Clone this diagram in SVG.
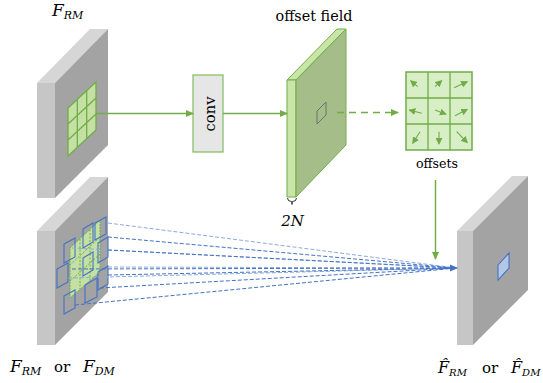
<svg xmlns="http://www.w3.org/2000/svg" width="543" height="383" viewBox="0 0 543 383">
<defs>
<style>
.lf{fill:#c6c6c6}
.tp{fill:#d6d6d6}
.dk{fill:#a3a3a3}
.gr{stroke:#70ad47;fill:none;stroke-width:1.3}
.bl{stroke:#4472c4;fill:none;stroke-width:1.1}
.dl{stroke:#4472c4;stroke-width:1;stroke-dasharray:4 2;fill:none}
.dl2{stroke:#8faadc;stroke-width:1;stroke-dasharray:4 2;fill:none}
.m{font-style:italic}
.oa{stroke:#70ad47;stroke-width:1.1;fill:none;marker-end:url(#sa)}
</style>
<marker id="ga" viewBox="0 0 8 8" refX="7" refY="4" markerWidth="8" markerHeight="8" markerUnits="userSpaceOnUse" orient="auto"><path d="M0,0.5 L8,4 L0,7.5 z" fill="#70ad47"/></marker>
<marker id="sa" viewBox="0 0 8 8" refX="7" refY="4" markerWidth="7" markerHeight="7" markerUnits="userSpaceOnUse" orient="auto"><path d="M0,0 L8,4 L0,8 z" fill="#70ad47"/></marker>
<marker id="ba" viewBox="0 0 8 8" refX="7" refY="4" markerWidth="9" markerHeight="8" markerUnits="userSpaceOnUse" orient="auto"><path d="M0,0.5 L8,4 L0,7.5 z" fill="#4472c4"/></marker>
</defs>
<rect width="543" height="383" fill="#fff"/>
<g fill="#000" font-family="DejaVu Serif">

<g id="input-top">
<polygon class="tp" points="37,83 90,29 108,29 55,83"/>
<polygon class="lf" points="37,83 55,83 55,198 37,198"/>
<polygon class="dk" points="55,83 108,29 108,145 55,198"/>
<polygon points="68,108 96,82 96,130 68,156" fill="#c5e0a5" stroke="#70ad47" stroke-width="1.3"/>
<path class="gr" d="M77.3,99.3 V147.3 M86.7,90.7 V138.7 M68,124 L96,98 M68,140 L96,114"/>
<text class="m" x="52" y="16" font-size="17">F<tspan font-size="11" dy="3">RM</tspan></text>
</g>

<g id="conv">
<rect x="193" y="75" width="30" height="77" fill="#e6e6e6" stroke="#8bc16a" stroke-width="1.3"/>
<text x="0" y="0" font-size="15" text-anchor="middle" textLength="35" lengthAdjust="spacingAndGlyphs" transform="translate(214.5,114) rotate(-90)">conv</text>
</g>

<g id="offset-field">
<polygon points="287,80 337,29 346,29 296,80" fill="#c9e6a8" stroke="#70ad47" stroke-width="1"/>
<polygon points="287,80 296,80 296,197 287,197" fill="#c9e6a8" stroke="#70ad47" stroke-width="1"/>
<polygon points="296,80 346,29 346,145 296,197" fill="#a5bd89" stroke="#70ad47" stroke-width="1"/>
<polygon points="317,111 326,102 326,115 317,124" fill="none" stroke="#707070" stroke-width="1"/>
<text x="314" y="21" font-size="15" text-anchor="middle" textLength="77" lengthAdjust="spacingAndGlyphs">offset field</text>
<path d="M287.5,198 q0,3.5 4,3.5 q0.5,0 0.5,3 M296.5,198 q0,3.5 -4,3.5 q-0.5,0 -0.5,3" fill="none" stroke="#000" stroke-width="0.8"/>
<text class="m" x="292.5" y="226" font-size="15" text-anchor="middle">2N</text>
</g>

<g id="offsets">
<rect x="406" y="72" width="66" height="78" fill="#d8eec6" stroke="#70ad47" stroke-width="1.5"/>
<path class="gr" d="M428,72 V150 M450,72 V150 M406,98 H472 M406,124 H472" stroke-width="1.3"/>
<line class="oa" x1="417.7" y1="86.7" x2="410.7" y2="80.7"/>
<line class="oa" x1="435" y1="86.7" x2="441.7" y2="80.7"/>
<line class="oa" x1="454" y1="87.7" x2="467.3" y2="81.7"/>
<line class="oa" x1="421.7" y1="113.3" x2="409.3" y2="110"/>
<line class="oa" x1="435" y1="110" x2="446" y2="114.3"/>
<line class="oa" x1="455" y1="115.7" x2="467.3" y2="109.3"/>
<line class="oa" x1="420" y1="131.7" x2="412.7" y2="143.3"/>
<line class="oa" x1="439" y1="131.7" x2="439" y2="144"/>
<line class="oa" x1="456.7" y1="131.7" x2="467.3" y2="142.7"/>
<text x="437" y="168" font-size="13.5" text-anchor="middle" textLength="42" lengthAdjust="spacingAndGlyphs">offsets</text>
</g>

<g id="input-bottom">
<polygon class="tp" points="37,231 90,177 108,177 55,231"/>
<polygon class="lf" points="37,231 55,231 55,345 37,345"/>
<polygon class="dk" points="55,231 108,177 108,292 55,345"/>
<polygon points="70,248 100,220 100,272 70,298" fill="#c5e0a5" stroke="#70ad47" stroke-width="1" stroke-dasharray="2 1"/>
<path d="M80,239 V289 M90,229.5 V280.5 M70,265 L100,237 M70,281 L100,254" stroke="#70ad47" stroke-width="1" stroke-dasharray="2 1.5" fill="none"/>
<polygon class="bl" points="95,223 106,217 106,234 95,240"/>
<polygon class="bl" points="83,229 93,223 93,242 83,248"/>
<polygon class="bl" points="64,244 75,238 75,257 64,263"/>
<polygon class="bl" points="98,243 108,237 108,257 98,263"/>
<polygon class="bl" points="83,258 93,252 93,270 83,276"/>
<polygon class="bl" points="57,269 68,263 68,282 57,288"/>
<polygon class="bl" points="98,272 108,266 108,284 98,290"/>
<polygon class="bl" points="85,285 97,278 97,297 85,303"/>
<polygon class="bl" points="64,296 75,290 75,308 64,314"/>
<text class="m" x="10" y="372" font-size="17">F<tspan font-size="11" dy="3">RM</tspan></text>
<text x="54" y="372" font-size="15">or</text>
<text class="m" x="83" y="372" font-size="17">F<tspan font-size="11" dy="3">DM</tspan></text>
</g>

<g id="output">
<polygon class="tp" points="457,231 512,176 528,176 473,231"/>
<polygon class="lf" points="457,231 473,231 473,345 457,345"/>
<polygon class="dk" points="473,231 528,176 528,290 473,345"/>
<polygon points="498,265 509,253 509,268 498,280" fill="#b4c7e7" stroke="#4472c4" stroke-width="1.1"/>
<text class="m" x="438" y="373" font-size="16">F̂<tspan font-size="10" dy="3">RM</tspan></text>
<text x="482" y="373" font-size="15">or</text>
<text class="m" x="511" y="373" font-size="16">F̂<tspan font-size="10" dy="3">DM</tspan></text>
</g>

<g id="connectors">
<line x1="96" y1="113.5" x2="193" y2="113.5" stroke="#70ad47" stroke-width="1.5" marker-end="url(#ga)"/>
<line x1="223" y1="113.5" x2="287" y2="113.5" stroke="#70ad47" stroke-width="1.5" marker-end="url(#ga)"/>
<line x1="337" y1="112.5" x2="398" y2="112.5" stroke="#70ad47" stroke-width="1.5" stroke-dasharray="7 5" marker-end="url(#ga)"/>
<line x1="435.5" y1="180" x2="435.5" y2="259" stroke="#70ad47" stroke-width="1.5" marker-end="url(#ga)"/>
<path class="dl2" d="M108,223 L456,268"/>
<path class="dl" d="M108,237 L456,268"/>
<path class="dl2" d="M72,248 L456,268"/>
<path class="dl" d="M108,250 L456,268"/>
<path class="dl2" d="M108,267 L456,268"/>
<path class="dl" d="M72,269 L456,268"/>
<path class="dl2" d="M68,278 L456,268"/>
<path class="dl" d="M108,275 L456,268"/>
<path class="dl" d="M100,288 L456,268"/>
<path class="dl" d="M75,305 L456,268"/>
<line x1="440" y1="268" x2="457" y2="268" stroke="#4472c4" stroke-width="1.2" marker-end="url(#ba)"/>
</g>
</g>
</svg>
